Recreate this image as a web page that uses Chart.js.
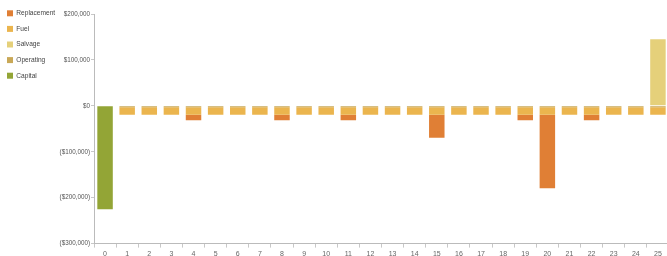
<!DOCTYPE html>
<html>
<head>
<meta charset="utf-8">
<script src="https://cdn.jsdelivr.net/npm/chart.js@4.4.1/dist/chart.umd.min.js"></script>
<style>
  html, body { margin: 0; padding: 0; background: #fff; overflow: hidden; }
  #wrap { width: 672px; height: 260px; }
</style>
</head>
<body>
<div id="wrap"><canvas id="chart" width="672" height="260"></canvas></div>
<script>
const years = ['0','1','2','3','4','5','6','7','8','9','10','11','12','13','14','15','16','17','18','19','20','21','22','23','24','25']

const operating   = [0, -3000, -3000, -3000, -3000, -3000, -3000, -3000, -3000, -3000, -3000, -3000, -3000, -3000, -3000, -3000, -3000, -3000, -3000, -3000, -3000, -3000, -3000, -3000, -3000, -3000]
const fuel        = [0, -16500, -16500, -16500, -16500, -16500, -16500, -16500, -16500, -16500, -16500, -16500, -16500, -16500, -16500, -16500, -16500, -16500, -16500, -16500, -16500, -16500, -16500, -16500, -16500, -16500]
const replacement = [0, 0, 0, 0, -12000, 0, 0, 0, -12000, 0, 0, -12000, 0, 0, 0, -50000, 0, 0, 0, -12000, -160000, 0, -12000, 0, 0, 0]
const capital     = [-225000, 0, 0, 0, 0, 0, 0, 0, 0, 0, 0, 0, 0, 0, 0, 0, 0, 0, 0, 0, 0, 0, 0, 0, 0, 0]
const salvage     = [0, 0, 0, 0, 0, 0, 0, 0, 0, 0, 0, 0, 0, 0, 0, 0, 0, 0, 0, 0, 0, 0, 0, 0, 0, 145000]

const legendOrder = ['Replacement', 'Fuel', 'Salvage', 'Operating', 'Capital']

const font = "'Liberation Sans', Arial, sans-serif"

function money(v) {
  const s = '$' + Math.abs(v).toLocaleString('en-US')
  return v < 0 ? '(' + s + ')' : s
}

new Chart(document.getElementById('chart'), {
  type: 'bar',
  data: {
    labels: years,
    datasets: [
      { label: 'Operating', data: operating, backgroundColor: '#c9a857' },
      { label: 'Fuel', data: fuel, backgroundColor: '#ebb54e' },
      { label: 'Replacement', data: replacement, backgroundColor: '#e07f35' },
      { label: 'Capital', data: capital, backgroundColor: '#93a536' },
      { label: 'Salvage', data: salvage, backgroundColor: '#e5d07a' },
    ],
  },
  options: {
    responsive: false,
    animation: false,
    maintainAspectRatio: false,
    barPercentage: 0.7,
    categoryPercentage: 1.0,
    layout: { padding: { top: 1, right: 3, left: -2, bottom: 0 } },
    plugins: {
      legend: {
        position: 'left',
        align: 'start',
        maxWidth: 60,
        labels: {
          boxWidth: 6,
          boxHeight: 6,
          padding: 9,
          color: '#444',
          font: { family: font, size: 6.6 },
          sort: (a, b) => legendOrder.indexOf(a.text) - legendOrder.indexOf(b.text),
        },
      },
      tooltip: { enabled: false },
    },
    scales: {
      x: {
        stacked: true,
        grid: { drawOnChartArea: false, color: '#c8c8c8', tickLength: 4 },
        border: { color: '#bbb' },
        ticks: { color: '#666', font: { family: font, size: 7 }, padding: 2, maxRotation: 0, autoSkip: false },
      },
      // empty strip above the plot so the legend can sit higher than the axis top
      top: {
        position: 'top',
        grid: { display: false },
        border: { display: false },
        ticks: { display: false },
        afterFit: (s) => { s.height = 13 },
      },
      y: {
        stacked: true,
        min: -300000,
        max: 200000,
        grid: { drawOnChartArea: false, color: '#c8c8c8', tickLength: 3 },
        border: { color: '#bbb' },
        ticks: { stepSize: 100000, color: '#555', font: { family: font, size: 6.3 }, padding: 1, callback: (v) => money(v) },
        afterFit: (s) => { s.width = 36 },
      },
    },
  },
})
</script>
</body>
</html>
